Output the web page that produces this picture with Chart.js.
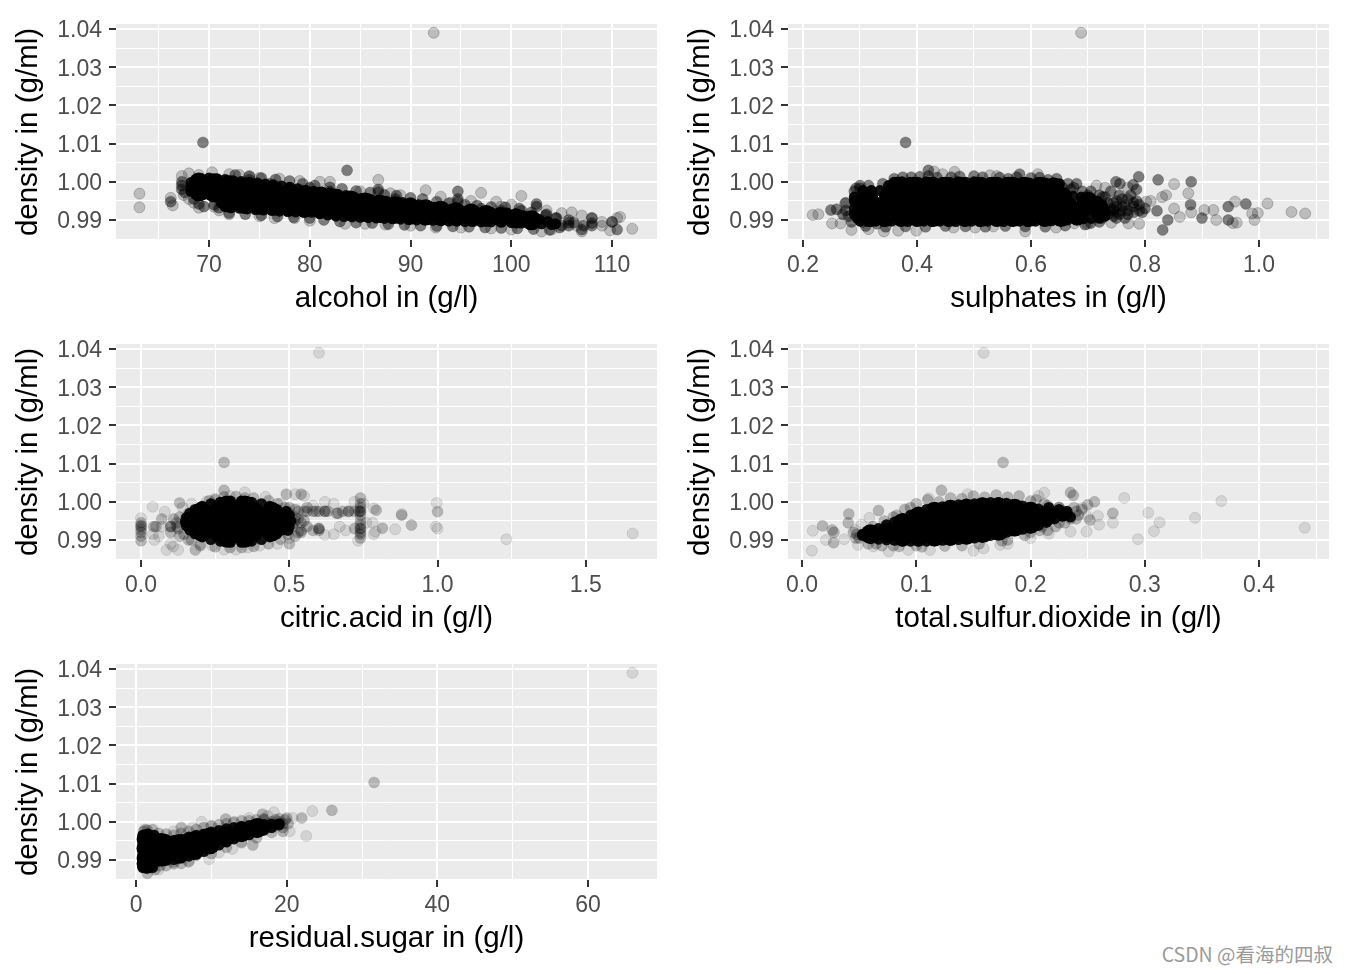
<!DOCTYPE html>
<html>
<head>
<meta charset="utf-8">
<title>density scatter plots</title>
<script src="https://cdn.jsdelivr.net/npm/chart.js@4"></script>
<style>
  html, body { margin: 0; padding: 0; background: #fff; }
  body { position: relative; width: 1348px; height: 974px; overflow: hidden; }
  canvas { position: absolute; }
  #mark { position: absolute; right: 15px; top: 942px; font: 19.5px "Noto Sans CJK SC", sans-serif; color: #9a9a9a; line-height: 24px; white-space: nowrap; }
</style>
</head>
<body>
<canvas id="c1" width="672" height="320" style="left:0;top:0"></canvas>
<canvas id="c2" width="672" height="320" style="left:672px;top:0"></canvas>
<canvas id="c3" width="672" height="320" style="left:0;top:320px"></canvas>
<canvas id="c4" width="672" height="320" style="left:672px;top:320px"></canvas>
<canvas id="c5" width="672" height="320" style="left:0;top:640px"></canvas>
<div id="mark">CSDN @看海的四叔</div>
<script>
// tick values
const yMajor = [0.99, 1.0, 1.01, 1.02, 1.03, 1.04];
const yMinor = [0.985, 0.995, 1.005, 1.015, 1.025, 1.035];
const yLabels = ["0.99", "1.00", "1.01", "1.02", "1.03", "1.04"];

const alcoholMajor = [70, 80, 90, 100, 110];
const alcoholMinor = [65, 75, 85, 95, 105];
const alcoholLabels = ["70", "80", "90", "100", "110"];
const sulphatesMajor = [0.2, 0.4, 0.6, 0.8, 1.0];
const sulphatesMinor = [0.3, 0.5, 0.7, 0.9, 1.1];
const sulphatesLabels = ["0.2", "0.4", "0.6", "0.8", "1.0"];
const citricMajor = [0, 0.5, 1.0, 1.5];
const citricMinor = [0.25, 0.75, 1.25];
const citricLabels = ["0.0", "0.5", "1.0", "1.5"];
const sulfurMajor = [0, 0.1, 0.2, 0.3, 0.4];
const sulfurMinor = [0.05, 0.15, 0.25, 0.35, 0.45];
const sulfurLabels = ["0.0", "0.1", "0.2", "0.3", "0.4"];
const sugarMajor = [0, 20, 40, 60];
const sugarMinor = [10, 30, 50];
const sugarLabels = ["0", "20", "40", "60"];

// alcohol: single points, overplotted points, edge and inside of the solid cloud
const alcoholSingle = [[63.1,.9969],[63.1,.9933],[92.3,1.039],[66.2,.9958],[66.4,.9938],[67.3,1.0015],[68,1.0022],[70.3,1.0025],[69,1.0018],
  [67.5,.9965],[68,.9955],[68.5,.9945],[69,.9932],[70.5,.9935],[71,.9925],[72,1.002],[73,1.0018],[74,1.0015],[75,1.001],[77,1.0008],[79,1.0002],
  [81,1.0],[82,1.0],[85,.9975],[86.8,1.0005],[88,.997],[89,.9965],[91.5,.9978],[93,.9961],[97,.9971],[96,.995],[98.5,.9948],[101,.9963],[100,.994],
  [103.5,.9925],[105,.9918],[106,.992],[107,.9912],[108,.9905],[109,.9895],[110.5,.9905],[110.8,.9908],[112,.9877],[109.8,.9873],[107,.987],
  [72,.9915],[75,.991],[76.5,.9905],[78.5,.9905],[80,.9898],[83.5,.989],[85.5,.989],[87.5,.9888],[90,.9885],[92.5,.988],[95,.988],[98,.9878],
  [100,.9875],[103,.987],[104,.9875],[94,.9945],[99,.9935],[106.5,.9885],[109,.9885],[110,.9895]];
const alcoholDense = [[69.4,1.0103],[83.7,1.003],[66.2,.9948],[67.3,1.0],[67.3,.999],[67.3,.998],[67.6,.9972],[68.5,.9955],[69,.9942],[69.5,.9935],
  [70.5,.994],[71,.9932],[86.8,.998],[86.8,.9973],[94.7,.9975],[94.7,.9955],[94.7,.9948],[102.5,.9942],[102.5,.9935],[103.5,.9915],[104.5,.9905],
  [105,.9885],[105.7,.9893],[105.7,.9885],[105.7,.99],[106.2,.9893],[107.2,.9885],[107,.9875],[108,.9892],[108,.9905],[108,.9885],[110.5,.9875],[110,.9895],
  [101,.9925],[99,.9925],[97,.993],[90,.9945],[88.5,.9955],[82,.9975],[80,.9985],[78,.9985],[76,.9995],[74,1.0005],
  [72.6,1.0018],[74,1.0014],[75.2,1.001],[76.6,1.0006],[78,1.0002],[79.3,.9995],[80.5,.999],[82,.9986],[83.2,.9982],[84.6,.9976],[86,.9972],[87.4,.9966],[88.6,.9964],
  [90,.9958],[91.2,.9955],[92.6,.9948],[93.8,.9944],[95.4,.994],[96.6,.9938],[98,.9934],[99.4,.9933],[100.8,.993],[102,.992],[103.4,.9912],[104.4,.9905],
  [72,.9918],[73.6,.9915],[75.2,.9912],[76.8,.9909],[78.4,.9907],[80,.9905],[81.4,.99],[83,.9896],[84.6,.9893],[86.2,.9892],[87.8,.9889],[89.4,.9887],[91,.9885],
  [92.6,.9884],[94.2,.9883],[95.8,.9882],[97.4,.988],[99,.9879],[100.6,.9878],[102.2,.9876],[103.8,.9874],[104.8,.988]];
const alcoholEdge = [[68.2,.9998],[68.2,.9985],[68.2,.9975],[69,1.0004],[70,1.001],[70.8,1.0008],[71.6,1.0006],[72.4,1.0003],[73.2,1.0001],[74,.9999],[74.8,.9997],
  [75.6,.9994],[76.4,.9992],[77.2,.9989],[78,.9986],[78.8,.9982],[79.6,.9978],[80.4,.9975],[81.2,.9973],[82,.9971],[82.8,.9967],[83.6,.9964],[84.4,.996],[85.2,.9957],
  [86,.9954],[86.8,.9952],[87.6,.9949],[88.4,.9947],[89.2,.9946],[90,.9944],[90.8,.994],[91.6,.9937],[92.4,.9933],[93.2,.993],[94,.9928],[94.8,.9926],[95.6,.9924],
  [96.4,.9922],[97.2,.9921],[98,.992],[98.8,.9919],[99.6,.9918],[100.4,.9916],[101.2,.9911],[102,.9906],[102.8,.9901],[103.6,.9896],[104.4,.989],
  [69.5,.9967],[70.5,.9965],[71.2,.9945],[71.6,.9935],[72.2,.9932],[73,.9931],[73.8,.9929],[74.6,.9927],[75.4,.9926],[76.2,.9925],[77,.9923],[77.8,.9922],[78.6,.9921],
  [79.4,.992],[80.2,.992],[81,.9916],[81.8,.9913],[82.6,.991],[83.4,.9909],[84.2,.9908],[85,.9907],[85.8,.9906],[86.6,.9905],[87.4,.9904],[88.2,.9903],[89,.9902],
  [89.8,.9901],[90.6,.99],[91.4,.99],[92.2,.9899],[93,.9898],[93.8,.9897],[94.6,.9897],[95.4,.9896],[96.2,.9896],[97,.9895],[98,.9895],[99,.9894],[100,.9893],
  [101,.9892],[102,.9891],[103,.989],[104,.9888]];
const alcoholCore = [[69,.9998],[69,.9975],[70.5,.9996],[70.5,.9972],[72,.9991],[72,.9965],[72,.9945],[73.5,.9985],[73.5,.9958],[73.5,.9942],
  [75,.998],[75,.9955],[75,.994],[76.5,.9975],[76.5,.995],[76.5,.9937],[78,.997],[78,.9948],[78,.9935],[79.5,.9965],[79.5,.9945],[79.5,.9932],
  [81,.9961],[81,.9944],[81,.993],[82.5,.9956],[82.5,.994],[82.5,.9927],[84,.9951],[84,.9937],[84,.9924],[85.5,.9946],[85.5,.9934],[85.5,.9922],
  [87,.994],[87,.9918],[88.5,.9936],[88.5,.9916],[90,.9932],[90,.9914],[91.5,.9928],[91.5,.9912],[93,.9924],[93,.9911],[94.5,.992],[94.5,.991],
  [96,.9917],[96,.9909],[97.5,.9913],[97.5,.9908],[99,.9908],[100.5,.9904],[102,.9899]];

const sulphatesSingle = [[.688,1.039],[.43,1.0027],[.445,1.002],[.466,1.0026],[.528,1.0017],[.54,1.0015],[.612,1.002],[.851,.9994],[.876,.997],
  [.837,.9965],[.802,.9948],[.861,.9908],[.851,.993],[.881,.992],[.904,.9926],[.92,.9926],[.925,.99],[.958,.9948],[.954,.9892],[.961,.9893],
  [.988,.9917],[.998,.9918],[.992,.99],[1.015,.9943],[1.057,.9921],[1.081,.9917],[.217,.9913],[.227,.9915],[.251,.9891],[.266,.9891],[.274,.9943],
  [.285,.9874],[.315,.9876],[.342,.987],[.367,.9872],[.399,.9872],[.464,.988],[.502,.988],[.534,.9883],[.59,.987],[.644,.988],[.676,.9891],[.699,.989],
  [.741,.9893],[.771,.9891],[.79,.989],[.81,.995],[.83,.996],[.77,.9985],[.715,.999],[.73,.9985]];
const sulphatesDense = [[.38,1.0103],[.42,1.003],[.58,1.002],[.249,.9926],[.259,.9928],[.293,.9983],[.3,.9983],[.665,.9995],[.675,.9985],[.69,.9975],
  [.68,.9995],[.7,.9965],[.749,1.0],[.756,.9995],[.779,.9992],[.785,.998],[.789,1.0013],[.823,1.0005],[.881,1.0],[.88,.994],[.821,.9924],[.84,.99],[.831,.9874],
  [.9,.9905],[.946,.9935],[.977,.9942],[.946,.99],[.74,.9975],[.73,.996],[.745,.9945],[.76,.9955],[.775,.9965],[.785,.995],[.74,.993],[.76,.9925],
  [.78,.9935],[.77,.9915],[.795,.992],[.75,.9905],[.72,.9905],[.275,.9925],[.28,.991],[.285,.9895],[.27,.9915],[.305,.9895],[.33,.989],[.32,.9975],
  [.34,.9995],[.36,1.0008],[.42,1.0015],[.5,1.0015],[.56,1.0008],[.63,1.0005],[.655,.9985],[.39,1.0012],[.46,1.0012],[.6,1.001],[.68,.99],[.72,.9895],
  [.75,.995],[.765,.994],[.79,.9925],[.735,.9915],[.75,.9935],[.72,.9965],[.745,.991],[.765,.9905],
  [.375,1.0012],[.405,1.0013],[.435,1.0011],[.475,1.0014],[.515,1.0012],[.545,1.0011],[.575,1.0012],[.615,1.0011],[.645,1.0008],
  [.31,.9884],[.345,.9882],[.38,.9883],[.415,.9882],[.45,.9884],[.485,.9883],[.52,.9882],[.555,.9884],[.59,.9883],[.625,.9882],[.66,.9885],[.695,.9888],[.705,.9892],[.725,.9905],
  [.3,.999],[.315,.999],[.275,.9945],[.29,.9975],[.67,.998],[.705,.9975],[.725,.996],[.735,.9945],[.745,.9925],[.755,.9915],
  [.74,.9925],[.75,.992],[.76,.9935],[.77,.9925],[.78,.992],[.755,.9965],[.77,.9955],[.78,.9945],[.79,.994],[.8,.993]];
const sulphatesEdge = [[.36,.9999],[.374,1.0],[.388,.9999],[.402,.9999],[.416,1.0],[.43,.9999],[.444,.9998],[.458,.9999],[.472,1.0],[.486,.9999],[.5,1.0],[.514,.9999],
  [.528,.9998],[.542,.9999],[.556,.9998],[.57,.9999],[.584,.9998],[.598,.9997],[.612,.9998],[.626,.9997],[.64,.9997],[.65,.9995],
  [.3,.9897],[.314,.9896],[.328,.9897],[.342,.9896],[.356,.9897],[.37,.9897],[.384,.9896],[.398,.9897],[.412,.9897],[.426,.9896],[.44,.9897],[.454,.9897],[.468,.9896],
  [.482,.9897],[.496,.9897],[.51,.9896],[.524,.9897],[.538,.9897],[.552,.9896],[.566,.9897],[.58,.9897],[.594,.9896],[.608,.9897],[.622,.9897],[.636,.9898],[.65,.9898],
  [.664,.99],[.678,.9902],[.692,.9903],[.706,.9904],[.72,.9905],[.305,.9977],[.32,.9977],[.335,.9977],[.35,.999],[.29,.996],[.29,.995],[.292,.9945],[.29,.993],[.29,.9915],
  [.295,.9905],[.66,.9965],[.674,.9962],[.688,.996],[.702,.9955],[.716,.995],[.725,.994],[.73,.9925],[.73,.991]];
const sulphatesCore = [[.365,.9987],[.393,.9987],[.421,.9987],[.449,.9987],[.477,.9987],[.505,.9987],[.533,.9987],[.561,.9987],[.589,.9987],[.617,.9987],[.64,.9985],
  [.351,.9961],[.379,.9961],[.407,.9961],[.435,.9961],[.463,.9961],[.491,.9961],[.519,.9961],[.547,.9961],[.575,.9961],[.603,.9961],[.631,.9961],[.655,.996],
  [.33,.9934],[.358,.9934],[.386,.9934],[.414,.9934],[.442,.9934],[.47,.9934],[.498,.9934],[.526,.9934],[.554,.9934],[.582,.9934],[.61,.9934],[.638,.9934],[.666,.9934],[.694,.9934],
  [.32,.9908],[.345,.9908],[.373,.9908],[.401,.9908],[.429,.9908],[.457,.9908],[.485,.9908],[.513,.9908],[.541,.9908],[.569,.9908],[.597,.9908],[.625,.9908],[.653,.9908],[.681,.9912],
  [.305,.9945],[.3025,.9925],[.315,.9955],[.72,.9925],[.7,.9948]];

const citricSingle = [[.6,1.039],[.35,1.0025],[.52,1.002],[.55,1.0015],[0,.9957],[.039,.9987],[.08,.9974],[.086,.9874],[.108,.9883],[.125,.9874],
  [.045,.99],[.04,.9915],[.62,.9913],[.67,.9935],[.69,.9925],[.732,.9898],[.785,.9983],[.781,.9945],[.79,.9922],[.857,.9928],[.997,.9997],[.994,.9935],
  [1.232,.9902],[1.658,.9917],[.65,.9995],[.62,1.0],[.58,.999],[.22,1.0],[.25,1.0008],[.42,1.0013],[.2,.989],[.24,.9885],[.28,.9875],[.32,.9875],[.36,.988],
  [.4,.9885],[.46,.989],[.5,.9905],[.07,.9935],[.06,.991],[.1,.989],[.16,.997],[.14,.9985],[.17,.9995],[.47,.9995],[.3,1.0015],[.879,.9968],[1,.993],
  [.785,.9915],[.75,.9995],[.72,1.0],[.76,.9945],[.65,.9915]];
const citricDense = [[.28,1.0103],[.28,1.003],[.49,1.002],[.54,1.002],[.13,.9997],[.183,.9874],[.0,.9945],[.0,.9935],[.0,.992],[.0,.991],[.0,.9898],[.043,.9935],
  [.1,.9935],[.13,.991],[.15,.9955],[.11,.9955],[.07,.9955],[.74,1.001],[.74,.9995],[.74,.9975],[.74,.995],[.74,.993],[.74,.9915],[.74,.9905],[.56,.9975],[.6,.9975],
  [.62,.9975],[.665,.997],[.7,.9975],[.58,.9925],[.6,.993],[.54,.9945],[.52,.996],[.55,.9975],[.793,.9978],[.879,.9965],[.814,.9931],[.912,.9939],[1.0,.9974],
  [.53,.992],[.52,.991],[.5,.989],[.16,.99],[.2,.9985],[.25,1.0005],[.35,1.001],[.43,1.0003],[.5,.9985],[.72,.993],[.51,.9935],[.52,.995],[.5,.997],[.53,.9975],[.1,.992],[.12,.9935],
  [.23,1.0003],[.28,1.0013],[.32,1.0014],[.38,1.001],[.46,.9995],[.485,.9985],[.2,.9885],[.25,.9882],[.3,.988],[.34,.988],[.38,.9883],[.43,.989],[.47,.9902],[.495,.9915],
  [.13,.996],[.12,.9945],[.125,.993],[.145,.9915],[.17,.99],[.515,.9945],[.53,.9955],[.56,.9985],[.58,.9975],[.63,.9975],[.68,.9975],[.72,.9975],[.6,.9925],[.56,.9935],[.54,.992],
  [.74,.9985],[.74,.9975],[.74,.9965],[.74,.994],[.74,.993],[.74,.992],[.735,.9975],[.7,.9975],[.66,.997],[.62,.9975],[.59,.9975],[.0,.9938],[.0,.9928],[.05,.9935],[.1,.9935],[.6,.993],[.54,.9925],[.55,.995],[.52,.998]];
const citricEdge = [[.491,.9948],[.487,.9959],[.476,.997],[.458,.998],[.434,.9988],[.406,.9995],[.373,.9999],[.338,1.0002],[.302,1.0002],[.267,.9999],[.235,.9995],[.206,.9988],
  [.182,.998],[.164,.997],[.153,.9959],[.149,.9948],[.153,.9937],[.164,.9926],[.182,.9916],[.206,.9908],[.235,.9901],[.267,.9897],[.302,.9894],[.338,.9894],[.373,.9897],
  [.406,.9901],[.434,.9908],[.458,.9916],[.476,.9926],[.487,.9937],[.5,.9935],[.505,.995],[.5,.9965],[.495,.9925],[.49,.9975]];
const citricCore = [[.17,.9948],[.224,.9948],[.278,.9948],[.332,.9948],[.386,.9948],[.44,.9948],[.475,.9948],
  [.205,.9974],[.26,.9974],[.32,.9974],[.38,.9974],[.44,.9974],[.205,.9922],[.26,.9922],[.32,.9922],[.38,.9922],[.44,.9922],
  [.29,.999],[.35,.999],[.29,.9906],[.35,.9906]];

const sulfurSingle = [[.159,1.039],[.111,1.0009],[.145,1.002],[.212,1.0024],[.207,1.0015],[.25,.9961],[.259,.9963],[.26,.994],[.249,.9922],[.235,.9922],[.216,.9916],
  [.282,1.001],[.272,.9945],[.303,.9971],[.313,.9946],[.308,.9923],[.294,.9902],[.344,.9958],[.367,1.0002],[.44,.9932],[.0095,.9924],[.0087,.9872],[.037,.9902],[.021,.99],
  [.047,.9926],[.049,.9887],[.059,.9958],[.0625,.9883],[.076,.987],[.093,.9874],[.112,.9874],[.15,.9872],[.159,.9878],[.1735,.9887],[.18,.989],[.2,.9905],[.052,.994],[.245,.9985]];
const sulfurDense = [[.176,1.0103],[.122,1.003],[.235,1.0024],[.2375,1.0017],[.256,1.0],[.252,.9952],[.272,.997],[.018,.9937],[.0265,.9926],[.028,.992],[.0277,.9893],
  [.041,.9968],[.0405,.9945],[.067,.9977],[.1,.9995],[.11,1.0005],[.13,1.001],[.15,1.0015],[.17,1.0018],[.19,1.0015],[.205,1.0005],[.22,.9975],[.225,.9985],[.23,.9965],
  [.235,.9955],[.24,.9975],[.245,.998],[.25,.9992],[.228,.9975],[.215,.999],[.21,.9935],[.225,.9945],[.215,.9925],[.2,.992],[.18,.99],[.14,.9885],[.06,.9925],[.05,.9905],
  [.048,.9915],[.065,.989],[.08,.9885],[.08,.996],[.09,.998],[.1,.9885],[.06,.9925],
  [.062,.9935],[.072,.995],[.083,.9965],[.095,.9985],[.12,1.0],[.14,1.0008],[.16,1.0012],[.18,1.0012],[.2,1.0002],[.212,.9995],[.225,.9985],[.238,.9985],[.242,.9965],[.24,.9955],
  [.23,.9945],[.222,.9935],[.208,.9925],[.195,.9912],[.175,.9898],[.155,.989],[.125,.9884],[.105,.9882],[.085,.9883],[.07,.9885],[.058,.989],[.047,.9905],[.045,.992]];
const sulfurEdge = [[.053,.9915],[.06,.9921],[.067,.993],[.074,.994],[.081,.9947],[.088,.9956],[.095,.9965],[.102,.9973],[.109,.998],[.116,.9984],[.123,.9987],[.13,.9991],[.137,.9992],
  [.144,.9994],[.151,.9995],[.158,.9997],[.165,.9998],[.172,.9998],[.179,.9996],[.186,.9993],[.193,.9989],[.2,.9986],[.207,.9981],[.214,.9975],[.221,.997],[.228,.9965],[.235,.996],
  [.053,.9912],[.06,.9905],[.067,.9902],[.074,.99],[.081,.9899],[.088,.9897],[.095,.9897],[.102,.9897],[.109,.9897],[.116,.9898],[.123,.9899],[.13,.9899],[.137,.9901],[.144,.9903],
  [.151,.9905],[.158,.9908],[.165,.9912],[.172,.9916],[.179,.992],[.186,.9924],[.193,.9928],[.2,.9931],[.207,.9938],[.214,.9946],[.221,.9955],[.228,.9962],
  [.232,.9975],[.225,.998],[.216,.9985],[.232,.9968]];
const sulfurCore = [[.06,.9915],[.074,.9918],[.088,.9944],[.088,.9926],[.088,.9909],[.102,.9961],[.102,.9935],[.102,.9909],[.116,.9974],[.116,.9948],[.116,.9922],[.116,.9909],
  [.13,.9979],[.13,.9953],[.13,.9928],[.13,.9911],[.144,.9982],[.144,.9956],[.144,.993],[.144,.9914],[.158,.9986],[.158,.996],[.158,.9934],[.158,.9918],
  [.172,.9986],[.172,.996],[.172,.9935],[.172,.9924],[.186,.9982],[.186,.9956],[.186,.9935],[.2,.9974],[.2,.9955],[.2,.9943],[.214,.9963]];

const sugarSingle = [[65.9,1.039],[23.4,1.0028],[22.6,.9963],[18.3,1.0025],[17.5,1.0015],[8.7,1.0],[12.8,.9929],[9.7,.9902],[20.4,.9975],[20.8,1.001],[14,.9945],
  [11,.992],[7,.9895],[3,.9875],[7.5,.9985],[5,.9975],[10,.999],[13,1.0],[15,1.001]];
const sugarDense = [[31.6,1.0103],[26,1.003],[22,1.001],[19.5,.9975],[16.8,1.002],[11.9,1.0007],[6,.9985],[2.2,.998],[15.5,.9939],[8,.9912],[6,.9891],[4,.9885],[1.5,.9865],
  [1,.9975],[1.2,.998],[1.5,.9978],[.9,.9915],[.8,.993],[17,1.0005],[17.5,.9995],[18,1.0],[18.5,1.0005],[19,1.0],[19.5,.9995],[19.8,1.0005],[20,1.001],[18.8,.999],[18,.9985],
  [17,.9985],[16,.9975],[15,.9965],[13,.996],[11,.994],[9,.9925],[5,.9895],[2.5,.9875],[3,.997],[6,.997],[9,.9985],[12,.9995],[14,1.0003],[16,1.0005],[19.5,.9985],[20.2,.9995],
  [4,.9968],[5,.9965],[7,.9975],[8,.998],[10,.9988],[11,.9992],[13,.9998],[15,1.0003],[17,1.0008],[19,1.0008],[3.2,.9885],[5,.989],[7,.9897],[10,.9917],[12,.9933],[14,.9947],[16,.9958],[18,.9972]];
const sugarEdge = [[.9,.9965],[.9,.9952],[.9,.994],[.9,.9925],[.9,.991],[.9,.9895],[.9,.988],[1.6,.9968],[2.4,.9965],[3.2,.9956],[4,.9953],[5,.9951],[6,.9955],[7,.996],[8,.9965],
  [9,.9968],[10,.9973],[11,.9977],[12,.9982],[13,.9985],[14,.9988],[15,.999],[16,.9992],[17,.9993],[18,.9994],[19,.9995],
  [1.5,.9879],[2.2,.988],[3,.9897],[4,.9899],[5,.9901],[6,.9905],[7,.991],[8,.9915],[9,.9922],[10,.9931],[11,.9939],[12,.9947],[13,.9955],[14,.9961],[15,.9966],[16,.9972],[17,.9978],[18,.9985],[19,.9992]];
const sugarCore = [[1.4,.9955],[1.4,.993],[1.4,.9905],[1.4,.989],[3.5,.9944],[3.5,.9926],[3.5,.9909],[5.6,.9941],[5.6,.9916],[7.7,.9949],[7.7,.9926],
  [9.8,.9959],[9.8,.9941],[11.9,.9962],[14,.9973],[16.1,.9984]];

// gray panel behind the grid
const panelBackground = {
  id: "panelBackground",
  beforeDraw(chart) {
    const a = chart.chartArea;
    chart.ctx.save();
    chart.ctx.fillStyle = "#EBEBEB";
    chart.ctx.fillRect(a.left, a.top, a.right - a.left, a.bottom - a.top);
    chart.ctx.restore();
  },
};

function toPoints(pairs) {
  return pairs.map((p) => ({ x: p[0], y: p[1] }));
}

function axisTicks(major, minor, labels) {
  const list = major.map((v, i) => ({ value: v, major: true, text: labels[i] }));
  minor.forEach((v) => list.push({ value: v, major: false, text: "" }));
  return list.sort((a, b) => a.value - b.value);
}

function axisOptions(min, max, major, minor, labels, title, isX) {
  return {
    type: "linear",
    min: min,
    max: max,
    afterBuildTicks(axis) {
      axis.ticks = axisTicks(major, minor, labels);
    },
    afterFit(axis) {
      if (isX) axis.height = 80;
      else axis.width = 116;
    },
    border: { display: false },
    grid: {
      color: "#FFFFFF",
      lineWidth: (ctx) => (ctx.tick && ctx.tick.major ? 2 : 1),
      tickColor: (ctx) => (ctx.tick && ctx.tick.major ? "#333333" : "rgba(0,0,0,0)"),
      tickWidth: 2,
      tickLength: 7,
    },
    ticks: {
      autoSkip: false,
      maxRotation: 0,
      minRotation: 0,
      padding: isX ? 5 : 7,
      labelOffset: isX ? 0 : 2,
      color: "#4D4D4D",
      font: { family: "Liberation Sans", size: 23 },
      callback: (value, index, ticks) => ticks[index].text,
    },
    title: {
      display: true,
      text: title,
      color: "#000000",
      font: { family: "Liberation Sans", size: 29.5 },
      // bottom titles are offset by padding.bottom, left titles by padding.top
      padding: isX ? { top: 0, bottom: 3 } : { top: 11, bottom: 0 },
    },
  };
}

function drawPanel(id, single, dense, edge, core, xAxis, yAxis, alpha) {
  new Chart(document.getElementById(id).getContext("2d"), {
    type: "scatter",
    data: {
      datasets: [
        { data: toPoints(core), pointRadius: 10, backgroundColor: "#000000", borderWidth: 0 },
        { data: toPoints(edge), pointRadius: 5.5, backgroundColor: "rgba(0,0,0,0.92)", borderWidth: 0 },
        { data: toPoints(dense), pointRadius: 5.5, backgroundColor: `rgba(0,0,0,${alpha * 2.4})`, borderColor: `rgba(0,0,0,${alpha})`, borderWidth: 1 },
        { data: toPoints(single), pointRadius: 5.5, backgroundColor: `rgba(0,0,0,${alpha})`, borderColor: `rgba(0,0,0,${alpha})`, borderWidth: 1 },
      ],
    },
    options: {
      responsive: false,
      animation: false,
      events: [],
      layout: { padding: { left: 0, top: 24, right: 15, bottom: 0 } },
      plugins: { legend: { display: false }, tooltip: { enabled: false } },
      scales: { x: xAxis, y: yAxis },
    },
    plugins: [panelBackground],
  });
}

function yAxis() {
  return axisOptions(0.98476, 1.0413, yMajor, yMinor, yLabels, "density in (g/ml)", false);
}

drawPanel("c1", alcoholSingle, alcoholDense, alcoholEdge, alcoholCore,
  axisOptions(60.77, 114.46, alcoholMajor, alcoholMinor, alcoholLabels, "alcohol in (g/l)", true), yAxis(), 0.2);
drawPanel("c2", sulphatesSingle, sulphatesDense, sulphatesEdge, sulphatesCore,
  axisOptions(0.1737, 1.1228, sulphatesMajor, sulphatesMinor, sulphatesLabels, "sulphates in (g/l)", true), yAxis(), 0.2);
drawPanel("c3", citricSingle, citricDense, citricEdge, citricCore,
  axisOptions(-0.0845, 1.74, citricMajor, citricMinor, citricLabels, "citric.acid in (g/l)", true), yAxis(), 0.1);
drawPanel("c4", sulfurSingle, sulfurDense, sulfurEdge, sulfurCore,
  axisOptions(-0.0122, 0.4612, sulfurMajor, sulfurMinor, sulfurLabels, "total.sulfur.dioxide in (g/l)", true), yAxis(), 0.1);
drawPanel("c5", sugarSingle, sugarDense, sugarEdge, sugarCore,
  axisOptions(-2.66, 69.16, sugarMajor, sugarMinor, sugarLabels, "residual.sugar in (g/l)", true), yAxis(), 0.1);
</script>
</body>
</html>
